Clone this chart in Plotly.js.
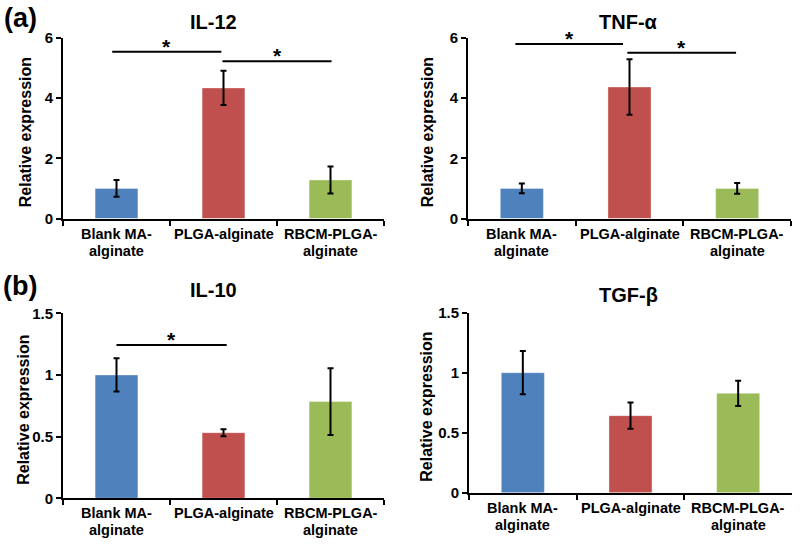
<!DOCTYPE html>
<html>
<head>
<meta charset="utf-8">
<script src="https://cdn.plot.ly/plotly-3.0.1.min.js"></script>
<style>html,body{margin:0;padding:0;background:#fff}#chart{width:800px;height:547px}</style>
</head>
<body>
<div id="chart"></div>
<script>
// ---- data ----
const categories = ['Blank MA-<br>alginate', 'PLGA-alginate', 'RBCM-PLGA-<br>alginate'];
const barColors = ['#4F81BD', '#C0504D', '#9BBB59'];

const il12 = [1.00, 4.34, 1.28];
const il12Err = [0.28, 0.57, 0.45];
const tnfa = [1.00, 4.37, 1.00];
const tnfaErr = [0.16, 0.92, 0.18];
const il10 = [1.00, 0.532, 0.784];
const il10Err = [0.135, 0.028, 0.27];
const tgfb = [1.00, 0.642, 0.828];
const tgfbErr = [0.18, 0.11, 0.105];

const panelTitles = ['IL-12', 'TNF-α', 'IL-10', 'TGF-β'];
const yTickValsA = [0, 2, 4, 6];
const yTickValsB = [0, 0.5, 1, 1.5];
const yTickTextB = ['0', '0.5', '1', '1.5'];

// significance brackets: panel index, from, to (category index), height
const sigPanel = [0, 0, 1, 1, 2];
const sigFrom = [-0.04, 0.99, -0.06, 0.98, 0.0];
const sigTo = [0.98, 2.01, 0.94, 1.99, 1.03];
const sigY = [5.54, 5.23, 5.80, 5.51, 1.243];

// ---- build ----
const FONT = 'Liberation Sans, Arial, sans-serif';
const series = [il12, tnfa, il10, tgfb];
const errs = [il12Err, tnfaErr, il10Err, tgfbErr];
const axSuffix = ['', '2', '3', '4'];

const traces = series.map((vals, i) => ({
  type: 'bar',
  x: categories,
  y: vals,
  xaxis: 'x' + axSuffix[i],
  yaxis: 'y' + axSuffix[i],
  marker: {color: barColors, line: {color: 'rgba(255,255,255,0.35)', width: 1}},
  error_y: {type: 'data', array: errs[i], visible: true, color: '#000', thickness: 2, width: 3},
  hoverinfo: 'skip',
  showlegend: false
}));

const W = 800, H = 547;
const px = (a, b) => [a / W, b / W];
const py = (top, bottom) => [1 - bottom / H, 1 - top / H];

const xDomains = [px(63, 384), px(468, 791), px(63, 384), px(469, 792)];
const yBottoms = [218.5, 218.5, 498.3, 492.7];
const yTops = [38, 38, 313.3, 312.7];
const yRanges = [[0, 6], [0, 6], [0, 1.5], [0, 1.5]];
const yTitleX = [25, 427, 24, 427];

const tickFont = {family: FONT, size: 15, color: '#000', weight: 'bold'};
const catFont = {family: FONT, size: 14.5, color: '#000', weight: 'bold'};

const layout = {
  width: W, height: H,
  margin: {l: 0, r: 0, t: 0, b: 0},
  paper_bgcolor: '#fff', plot_bgcolor: '#fff',
  bargap: 0.6,
  font: {family: FONT, color: '#000'},
  shapes: [],
  annotations: []
};

for (let i = 0; i < 4; i++) {
  const s = axSuffix[i];
  layout['xaxis' + s] = {
    domain: xDomains[i], anchor: 'y' + s,
    type: 'category', range: [-0.5, 2.5],
    showline: true, linecolor: '#000', linewidth: 2,
    ticks: 'outside', tickson: 'boundaries', ticklen: 5, tickwidth: 2, tickcolor: '#000',
    showgrid: false, zeroline: false, fixedrange: true,
    showticklabels: false
  };
  layout['yaxis' + s] = {
    domain: py(yTops[i], yBottoms[i]), anchor: 'x' + s,
    range: yRanges[i],
    tickvals: i < 2 ? yTickValsA : yTickValsB,
    ticktext: i < 2 ? yTickValsA.map(String) : yTickTextB,
    showline: true, linecolor: '#000', linewidth: 2,
    ticks: 'outside', ticklen: 5, tickwidth: 2, tickcolor: '#000',
    showgrid: false, zeroline: false, fixedrange: true,
    tickfont: tickFont
  };
  // y-axis title as rotated text
  layout.annotations.push({
    xref: 'paper', yref: 'paper',
    x: yTitleX[i] / W, y: 1 - ((yTops[i] + yBottoms[i]) / 2 + 4) / H,
    text: 'Relative expression', textangle: -90, showarrow: false,
    xanchor: 'center', yanchor: 'middle',
    font: {family: FONT, size: 16, color: '#000', weight: 'bold'}
  });
  // category labels (two-line, tight spacing)
  categories.forEach((c, j) => {
    c.split('<br>').forEach((line, k) => {
      layout.annotations.push({
        xref: 'x' + s, yref: 'paper',
        x: c, y: 1 - (yBottoms[i] + 15 + k * 17) / H,
        text: line, showarrow: false, xanchor: 'center', yanchor: 'middle',
        font: catFont
      });
    });
  });
}

// significance lines and asterisks
for (let k = 0; k < sigPanel.length; k++) {
  const s = axSuffix[sigPanel[k]];
  layout.shapes.push({
    type: 'line', xref: 'x' + s, yref: 'y' + s,
    x0: sigFrom[k], x1: sigTo[k], y0: sigY[k], y1: sigY[k],
    line: {color: '#000', width: 2}
  });
  layout.annotations.push({
    xref: 'x' + s, yref: 'y' + s,
    x: (sigFrom[k] + sigTo[k]) / 2, y: sigY[k],
    text: '*', showarrow: false, yanchor: 'bottom', yshift: -8,
    font: {family: FONT, size: 21, color: '#000', weight: 'bold'}
  });
}

// panel titles
const titlePos = [[213, 22], [628, 22], [213, 290], [628, 295]];
panelTitles.forEach((t, i) => {
  layout.annotations.push({
    xref: 'paper', yref: 'paper',
    x: titlePos[i][0] / W, y: 1 - titlePos[i][1] / H,
    text: t, showarrow: false, xanchor: 'center', yanchor: 'middle',
    font: {family: FONT, size: 20, color: '#000', weight: 'bold'}
  });
});

// panel labels
[['(a)', 20, 18], ['(b)', 20, 286]].forEach(l => {
  layout.annotations.push({
    xref: 'paper', yref: 'paper', x: l[1] / W, y: 1 - l[2] / H,
    text: l[0], showarrow: false, xanchor: 'center', yanchor: 'middle',
    font: {family: FONT, size: 27, color: '#000', weight: 'bold'}
  });
});

Plotly.newPlot('chart', traces, layout, {staticPlot: true, displayModeBar: false});
</script>
</body>
</html>
